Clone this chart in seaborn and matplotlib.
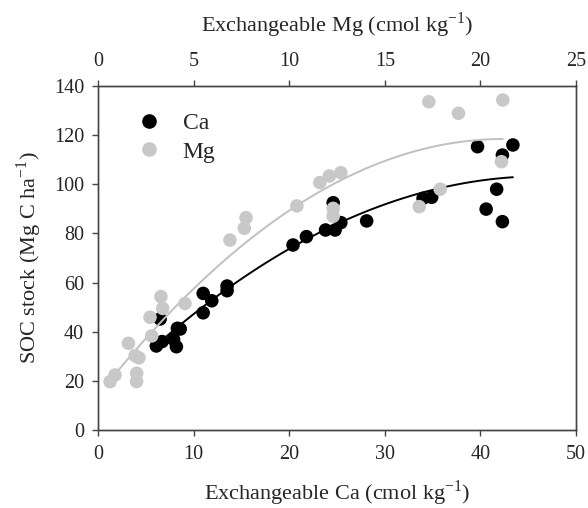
import numpy as np
import pandas as pd
import seaborn as sns
import matplotlib.pyplot as plt
from matplotlib.lines import Line2D

# exchangeable Ca (cmol/kg) vs SOC stock (Mg C/ha)
ca_x = [6.5, 6.1, 6.7, 7.9, 8.2, 8.3, 8.6, 11.0, 11.0, 11.9, 13.5, 13.5,
        20.4, 21.8, 23.8, 24.8, 25.4, 24.6, 28.1,
        34.0, 34.9, 39.7, 43.4, 42.3, 41.7, 40.6, 42.3]
ca_y = [45.2, 34.2, 36.0, 36.9, 33.9, 41.4, 41.1, 55.6, 47.7, 52.6, 58.6, 56.7,
        75.3, 78.7, 81.4, 81.4, 84.4, 92.5, 85.1,
        94.3, 94.7, 115.3, 116.0, 111.9, 98.0, 89.9, 84.8]

# exchangeable Mg (cmol/kg) vs SOC stock
mg_x = [0.63, 0.89, 2.02, 2.02, 1.94, 2.14, 1.59, 2.81, 2.72, 3.29, 3.38, 4.55,
        6.9, 7.65, 7.74,
        10.4, 11.6, 12.1, 12.7, 12.3, 12.3, 16.8,
        17.3, 18.85, 21.17, 17.9, 21.1]
mg_y = [19.7, 22.4, 23.1, 19.7, 30.3, 29.4, 35.3, 38.3, 45.9, 54.3, 49.5, 51.5,
        77.3, 82.1, 86.4,
        91.2, 100.7, 103.4, 104.7, 90.2, 87.0, 90.9,
        133.6, 128.9, 134.3, 98.0, 109.2]

ca_df = pd.DataFrame({"x": ca_x, "y": ca_y})
mg_df = pd.DataFrame({"x": mg_x, "y": mg_y})

sns.set_style("white")
plt.rcParams['font.family'] = ['Liberation Serif', 'DejaVu Serif']
plt.rcParams['mathtext.fontset'] = 'custom'
plt.rcParams['mathtext.rm'] = 'Liberation Serif'
plt.rcParams['font.size'] = 16

ca_col = "black"
mg_col = "#c8c8c8"

fig = plt.figure(figsize=(5.88, 5.08), dpi=100)
ax = fig.add_axes([0.1667, 0.1535, 0.8129, 0.6772])

# quadratic trend lines + points
sns.regplot(data=ca_df, x="x", y="y", order=2, ci=None, scatter=False,
            color=ca_col, line_kws={"lw": 1.4}, ax=ax)
sns.scatterplot(data=ca_df, x="x", y="y", color=ca_col, s=95,
                edgecolor="none", ax=ax, zorder=3)

ax2 = ax.twiny()
sns.regplot(data=mg_df, x="x", y="y", order=2, ci=None, scatter=False,
            color="#c0c0c0", line_kws={"lw": 1.4}, ax=ax2)
sns.scatterplot(data=mg_df, x="x", y="y", color=mg_col, s=95,
                edgecolor="none", ax=ax2, zorder=3)

ax.set_xlim(0, 50)
ax.set_ylim(0, 140)
ax2.set_xlim(0, 25)
ax.set_xticks(range(0, 51, 10))
ax.set_yticks(range(0, 141, 20))
ax2.set_xticks(range(0, 26, 5))

ax.set_xlabel(r"Exchangeable Ca (cmol kg$^{-1}$)", labelpad=10)
ax.set_ylabel(r"SOC stock (Mg C ha$^{-1}$)", labelpad=7)
ax2.set_xlabel(r"Exchangeable Mg (cmol kg$^{-1}$)", labelpad=15)

for a in (ax, ax2):
    for sp in a.spines.values():
        sp.set_color("#444444")
        sp.set_linewidth(1.0)
ax.tick_params(axis="both", direction="out", length=4, width=1,
               color="#444444", bottom=True, left=True, labelsize=14.5)
ax.tick_params(axis="x", pad=7)
ax.tick_params(axis="y", pad=6)
ax2.tick_params(axis="x", direction="out", length=4, width=1,
                color="#444444", top=True, labelsize=14.5, pad=6.5)
ax2.set_ylabel("")

handles = [
    Line2D([], [], marker="o", ls="", color=ca_col, markersize=9.5),
    Line2D([], [], marker="o", ls="", color=mg_col, markersize=9.5),
]
ax2.legend(handles, ["Ca", "Mg"], loc="upper left", frameon=False,
           bbox_to_anchor=(0.013, 0.985), handletextpad=0.43, labelspacing=0.3,
           fontsize=17)

fig.savefig("out.png", dpi=100)
